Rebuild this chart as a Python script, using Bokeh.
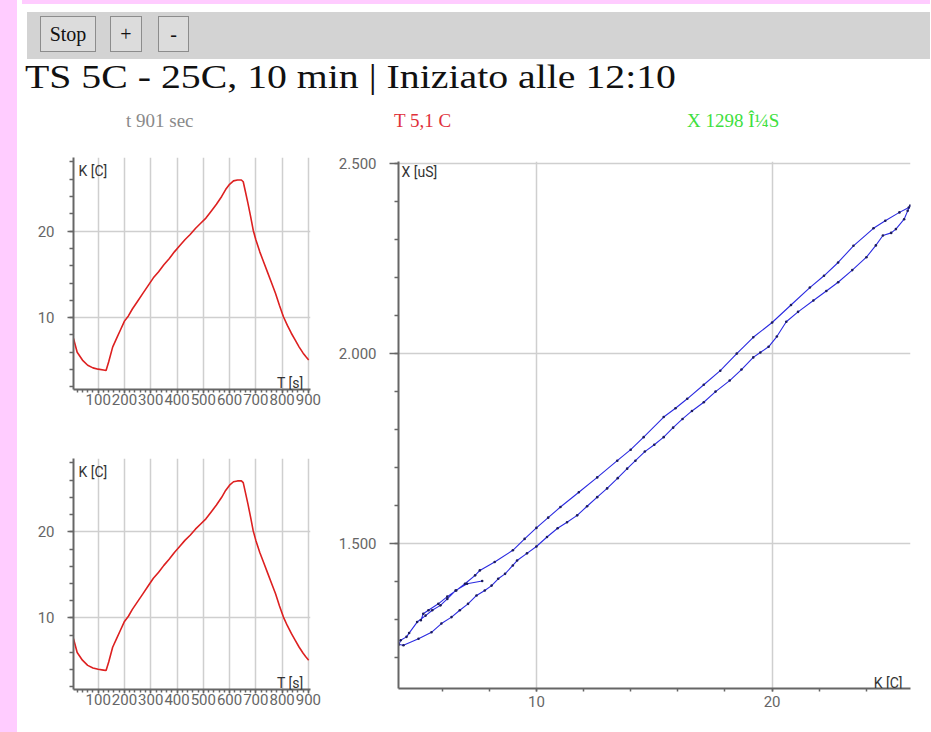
from bokeh.plotting import figure
from bokeh.models import Div, Spacer, Label, FixedTicker, Range1d, ColumnDataSource
from bokeh.layouts import column, row
from bokeh.embed import file_html
from bokeh.resources import INLINE

# ---------------- data ----------------
time_s = [6, 20, 40, 60, 80, 100, 120, 130, 140, 155, 170, 185, 200, 215, 230, 250,
          270, 290, 310, 330, 350, 370, 390, 410, 430, 450, 470, 490, 510, 530, 550,
          570, 585, 600, 615, 630, 645, 652, 660, 670, 680, 690, 700, 715, 730, 745,
          760, 775, 790, 805, 820, 835, 850, 865, 880, 890, 901]
temp_k = [7.6, 6.0, 5.1, 4.5, 4.2, 4.05, 3.95, 3.9, 4.9, 6.6, 7.6, 8.6, 9.6, 10.2, 11.0, 11.9,
          12.8, 13.7, 14.6, 15.3, 16.1, 16.8, 17.6, 18.3, 19.0, 19.6, 20.3, 20.9, 21.5, 22.3, 23.1,
          24.0, 24.8, 25.4, 25.8, 25.9, 25.9, 25.7, 24.6, 23.2, 21.7, 20.1, 19.0, 17.6, 16.4, 15.2,
          14.0, 12.8, 11.4, 10.1, 9.1, 8.2, 7.4, 6.6, 5.9, 5.5, 5.1]

loop_k = [7.7, 7.06, 6.57, 6.22, 5.93, 5.58, 5.3, 4.94, 4.6, 4.49, 4.24, 4.17,
          4.36, 5.0, 5.55, 5.97, 6.4, 6.75, 7.1, 7.46, 7.81, 8.1, 8.38, 8.67, 9.0, 9.18, 9.6,
          10.0, 10.45, 10.9, 11.3, 11.73, 12.15, 12.58, 13.0, 13.45, 13.85, 14.2, 14.6, 15.0,
          15.4, 15.8, 16.2, 16.6, 17.1, 17.6, 18.2, 18.7, 19.2, 19.5, 19.85, 20.2, 20.6, 21.1,
          21.75, 22.3, 22.8, 23.4, 24.0, 24.4, 24.7, 25.05, 25.25, 25.6, 25.75, 25.86,
          25.8, 25.4, 24.8, 24.3, 23.45, 22.8, 22.2, 21.6, 20.8, 20.0, 19.2, 18.5, 17.8, 17.1,
          16.4, 15.9, 15.4, 14.55, 14.0, 13.43, 12.58, 11.8, 11.02, 10.5, 10.0, 9.5, 9.0, 8.23,
          7.6, 7.4, 6.97, 6.6, 6.22, 5.84, 5.42, 5.2, 5.1]
loop_x = [1401, 1394, 1376, 1354, 1337, 1324, 1310, 1293, 1264, 1254, 1245, 1234,
          1232, 1249, 1266, 1289, 1306, 1324, 1341, 1363, 1376, 1389, 1407, 1420, 1442, 1455, 1474,
          1492, 1517, 1540, 1556, 1574, 1598, 1622, 1645, 1672, 1697, 1718, 1742, 1760,
          1780, 1805, 1828, 1849, 1872, 1900, 1929, 1958, 1990, 2003, 2018, 2045, 2084, 2110,
          2140, 2165, 2188, 2220, 2254, 2285, 2311, 2318, 2328, 2354, 2376, 2390,
          2385, 2372, 2350, 2330, 2284, 2240, 2205, 2174, 2128, 2082, 2043, 2000, 1955, 1918,
          1881, 1856, 1833, 1780, 1747, 1718, 1674, 1635, 1596, 1568, 1541, 1512, 1482, 1451,
          1429, 1416, 1394, 1376, 1360, 1341, 1324, 1315, 1298]

small_x_ticks = [100, 200, 300, 400, 500, 600, 700, 800, 900]
small_y_ticks = [10, 20]
big_x_ticks = [10, 20]
big_y_ticks = [1500, 2000, 2500]
big_y_labels = ["1.500", "2.000", "2.500"]

title_text = "TS 5C - 25C, 10 min | Iniziato alle 12:10"
info_t = "t 901 sec"
info_k = "T 5,1 C"
info_x = "X 1298 Î¼S"

FONT = "Roboto"
AX = "#666666"
GRID = "#cfcfcf"
PINK = "#ffccff"


def style_axes(p):
    for ax in (p.xaxis[0], p.yaxis[0]):
        ax.axis_line_color = AX
        ax.axis_line_width = 2
        ax.major_tick_line_color = AX
        ax.minor_tick_line_color = AX
        ax.major_tick_line_width = 1.5
        ax.minor_tick_line_width = 1.5
        ax.major_tick_in = 0
        ax.minor_tick_in = 0
        ax.major_label_text_font = FONT
        ax.major_label_text_font_size = "15px"
        ax.major_label_text_color = "#666666"
    p.grid.grid_line_color = GRID
    p.grid.grid_line_width = 1.5
    p.outline_line_color = None
    p.background_fill_color = "white"
    p.border_fill_color = "white"


def make_small(height, btop, bbottom):
    p = figure(width=313, height=height, output_backend="svg", toolbar_location=None,
               x_range=Range1d(6, 908), y_range=Range1d(1.7, 28.5),
               min_border_left=56, min_border_right=20,
               min_border_top=btop, min_border_bottom=bbottom)
    p.xaxis.ticker = FixedTicker(ticks=small_x_ticks, minor_ticks=list(range(20, 901, 20)))
    p.yaxis.ticker = FixedTicker(ticks=small_y_ticks, minor_ticks=list(range(2, 29, 2)))
    style_axes(p)
    p.xaxis.major_tick_out = 4
    p.xaxis.minor_tick_out = 3
    p.xaxis.major_label_standoff = 0
    p.yaxis.major_tick_out = 6
    p.yaxis.minor_tick_out = 4
    p.yaxis.major_label_standoff = 13
    src = ColumnDataSource(dict(t=time_s, k=temp_k))
    p.line("t", "k", source=src, line_color="#dd2020", line_width=1.6)
    p.add_layout(Label(x=6, y=28.5, x_offset=5, y_offset=-5, text="K [C]",
                       text_baseline="top", text_align="left", text_font=FONT,
                       text_font_size="14px", text_color="#333333"))
    p.add_layout(Label(x=908, y=1.7, x_offset=-7, y_offset=7, text="T [s]",
                       text_baseline="alphabetic", text_align="right", text_font=FONT,
                       text_font_size="14px", text_color="#333333"))
    return p


small1 = make_small(301, 12, 57)
small2 = make_small(296, 12, 53)

big = figure(width=595, height=597, output_backend="svg", toolbar_location=None,
             x_range=Range1d(4.15, 25.87), y_range=Range1d(1118, 2506),
             min_border_left=68, min_border_right=15, min_border_top=16, min_border_bottom=54)
big.xaxis.ticker = FixedTicker(ticks=big_x_ticks, minor_ticks=list(range(6, 26, 2)))
big.yaxis.ticker = FixedTicker(ticks=big_y_ticks, minor_ticks=list(range(1200, 2501, 100)))
big.yaxis.major_label_overrides = dict(zip(big_y_ticks, big_y_labels))
style_axes(big)
big.xaxis.major_tick_out = 3
big.xaxis.minor_tick_out = 3
big.xaxis.major_label_standoff = 4
big.yaxis.major_tick_out = 9
big.yaxis.minor_tick_out = 4
big.yaxis.major_label_standoff = 13
lsrc = ColumnDataSource(dict(k=loop_k, x=loop_x))
big.line("k", "x", source=lsrc, line_color="#2a2ae0", line_width=1.1)
big.scatter("k", "x", source=lsrc, size=2.6, fill_color="#1c1c5c", line_color=None)
big.add_layout(Label(x=4.15, y=2506, x_offset=3, y_offset=-2, text="X [uS]",
                     text_baseline="top", text_align="left", text_font=FONT,
                     text_font_size="14px", text_color="#333333"))
big.add_layout(Label(x=25.87, y=1118, x_offset=-8, y_offset=6, text="K [C]",
                     text_baseline="alphabetic", text_align="right", text_font=FONT,
                     text_font_size="14px", text_color="#333333"))

btn = ("position:absolute;box-sizing:border-box;top:17px;height:36px;border:1px solid #8c8c8c;"
       "background:#dcdcdc;font-size:20px;line-height:34px;text-align:center;color:#111;")
header_html = (
    '<div style="position:relative;width:908px;height:141px;background:#ffffff;'
    "font-family:'Liberation Serif',serif;\">"
    f'<div style="position:absolute;left:0px;top:0px;width:908px;height:5px;background:{PINK};"></div>'
    '<div style="position:absolute;left:5px;top:13px;width:903px;height:47px;background:#d3d3d3;"></div>'
    f'<div style="{btn}left:18px;width:56px;">Stop</div>'
    f'<div style="{btn}left:88px;width:32px;">+</div>'
    f'<div style="{btn}left:136px;width:31px;">-</div>'
    f'<div style="position:absolute;left:3px;top:61px;font-size:34px;line-height:34px;'
    f'white-space:nowrap;color:#111;transform:scaleX(1.17);transform-origin:0 0;">{title_text}</div>'
    f'<div style="position:absolute;left:104px;top:112px;font-size:19px;line-height:19px;'
    f'white-space:nowrap;color:#8a8a8a;">{info_t}</div>'
    f'<div style="position:absolute;left:372px;top:112px;font-size:19px;line-height:19px;'
    f'white-space:nowrap;color:#e0303a;">{info_k}</div>'
    f'<div style="position:absolute;left:665px;top:112px;font-size:19px;line-height:19px;'
    f'white-space:nowrap;color:#3ee03e;">{info_x}</div>'
    '</div>'
)
header = Div(text=header_html, width=908, height=141)

inner = column(header, row(column(small1, small2, spacing=0), big, spacing=0),
               spacing=0, styles={"background-color": "#ffffff"})

root = column(
    Spacer(width=931, height=4),
    row(Spacer(width=17, height=738), inner, Spacer(width=6, height=738), spacing=0),
    spacing=0,
    styles={"background-color": PINK, "position": "absolute", "left": "0px", "top": "-10px"},
)

open("out.html", "w").write(file_html(root, INLINE))
